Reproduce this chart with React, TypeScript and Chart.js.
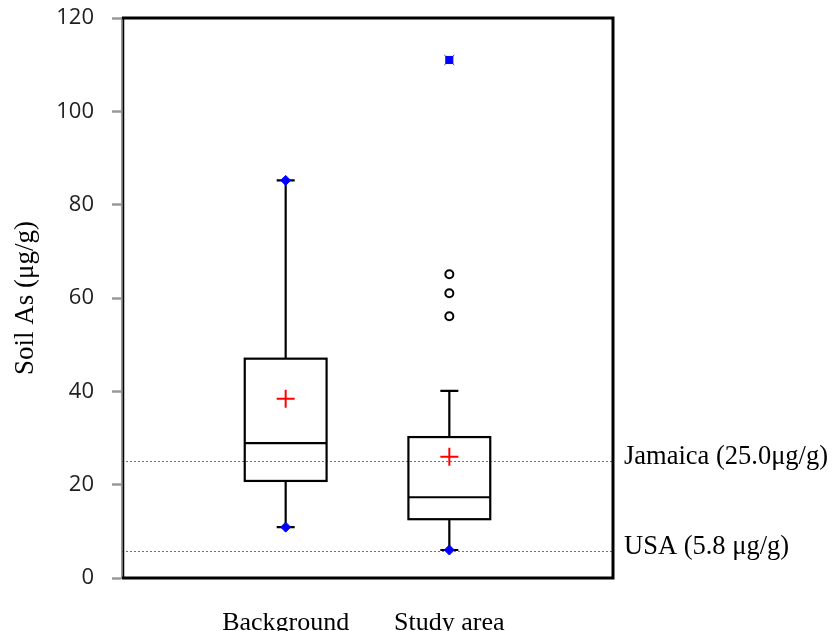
import React, { useEffect, useRef } from "react";
import { Chart, registerables } from "chart.js";

Chart.register(...registerables);

const categories = ["Background", "Study area"];
const q1Values = [20.8, 12.6];
const medianValues = [28.9, 17.3];
const q3Values = [47.0, 30.2];
const whiskerLowValues = [10.9, 6.0];
const whiskerHighValues = [85.2, 40.1];
const meanValues = [38.4, 26.0];
const outlierValues = [[], [56.1, 61.0, 65.1]];
const extremeValues = [[], [111.0]];
const refLabels = ["Jamaica (25.0μg/g)", "USA (5.8 μg/g)"];
const refValues = [25.0, 5.8];
const yTicks = [0, 20, 40, 60, 80, 100, 120];

const SERIF = "'Liberation Serif', 'Times New Roman', serif";

const boxPlugin = {
  id: "boxPlugin",
  beforeDatasetsDraw(chart: any) {
    const { ctx, chartArea, scales } = chart;
    const xs = scales.x;
    const ys = scales.y;
    ctx.save();
    ctx.strokeStyle = "#707070";
    ctx.lineWidth = 1;
    ctx.setLineDash([2, 2]);
    refValues.forEach((v) => {
      const y = Math.round(ys.getPixelForValue(v)) + 0.5;
      ctx.beginPath();
      ctx.moveTo(chartArea.left, y);
      ctx.lineTo(chartArea.right, y);
      ctx.stroke();
    });
    ctx.setLineDash([]);
    ctx.strokeStyle = "#000";
    ctx.lineWidth = 2.2;
    categories.forEach((_, i) => {
      const cx = xs.getPixelForValue(i + 1);
      const xl = xs.getPixelForValue(i + 1 - 0.25);
      const xr = xs.getPixelForValue(i + 1 + 0.25);
      const capL = xs.getPixelForValue(i + 1 - 0.055);
      const capR = xs.getPixelForValue(i + 1 + 0.055);
      const yq1 = ys.getPixelForValue(q1Values[i]);
      const yq3 = ys.getPixelForValue(q3Values[i]);
      const ymed = ys.getPixelForValue(medianValues[i]);
      const ylo = ys.getPixelForValue(whiskerLowValues[i]);
      const yhi = ys.getPixelForValue(whiskerHighValues[i]);
      ctx.strokeRect(xl, yq3, xr - xl, yq1 - yq3);
      ctx.beginPath();
      ctx.moveTo(xl, ymed);
      ctx.lineTo(xr, ymed);
      ctx.moveTo(cx, yq3);
      ctx.lineTo(cx, yhi);
      ctx.moveTo(capL, yhi);
      ctx.lineTo(capR, yhi);
      ctx.moveTo(cx, yq1);
      ctx.lineTo(cx, ylo);
      ctx.moveTo(capL, ylo);
      ctx.lineTo(capR, ylo);
      ctx.stroke();
    });
    ctx.restore();
  },
  afterDraw(chart: any) {
    const { ctx, chartArea, scales } = chart;
    const ys = scales.y;
    ctx.save();
    ctx.strokeStyle = "#000";
    ctx.lineWidth = 3;
    ctx.beginPath();
    ctx.moveTo(chartArea.left, chartArea.top);
    ctx.lineTo(chartArea.right, chartArea.top);
    ctx.lineTo(chartArea.right, chartArea.bottom);
    ctx.lineTo(chartArea.left, chartArea.bottom);
    ctx.stroke();
    ctx.lineWidth = 1.5;
    ctx.beginPath();
    ctx.moveTo(chartArea.left + 1.5, chartArea.top);
    ctx.lineTo(chartArea.left + 1.5, chartArea.bottom);
    ctx.stroke();
    ctx.fillStyle = "#000";
    ctx.font = `26.5px ${SERIF}`;
    ctx.textAlign = "left";
    ctx.textBaseline = "alphabetic";
    refValues.forEach((v, i) => {
      const y = ys.getPixelForValue(v);
      ctx.fillText(refLabels[i], chartArea.right + 11, y + 3);
    });
    ctx.restore();
  },
};

export default function App() {
  const ref = useRef<HTMLCanvasElement>(null);
  useEffect(() => {
    if (!ref.current) return;
    const minMarkers = categories.map((_, i) => ({ x: i + 1, y: whiskerLowValues[i] }));
    const maxMarkers = categories
      .map((_, i) => ({ x: i + 1, y: whiskerHighValues[i], ext: extremeValues[i].length }))
      .filter((p) => p.ext === 0)
      .map((p) => ({ x: p.x, y: p.y }));
    const extremes = categories.flatMap((_, i) => extremeValues[i].map((v) => ({ x: i + 1, y: v })));
    const outliers = categories.flatMap((_, i) => outlierValues[i].map((v) => ({ x: i + 1, y: v })));
    const means = categories.map((_, i) => ({ x: i + 1, y: meanValues[i] }));
    const chart = new Chart(ref.current, {
      type: "scatter",
      data: {
        datasets: [
          { data: minMarkers.concat(maxMarkers), pointStyle: "rectRot", pointRadius: 5, backgroundColor: "#0000ff", borderColor: "#0000ff", borderWidth: 1 },
          { data: extremes, pointStyle: "rect", pointRadius: 5, backgroundColor: "#0000ff", borderColor: "#0000ff", borderWidth: 1 },
          { data: extremes, pointStyle: "crossRot", pointRadius: 7, backgroundColor: "#222", borderColor: "#222", borderWidth: 1 },
          { data: outliers, pointStyle: "circle", pointRadius: 4, backgroundColor: "#fff", borderColor: "#000", borderWidth: 2 },
          { data: means, pointStyle: "cross", pointRadius: 9, backgroundColor: "#ff0000", borderColor: "#ff0000", borderWidth: 2 },
        ],
      },
      options: {
        responsive: false,
        animation: false,
        devicePixelRatio: 1,
        layout: { padding: { top: 18, right: 225, bottom: 0, left: 0 } },
        plugins: { legend: { display: false }, tooltip: { enabled: false } },
        scales: {
          x: {
            type: "linear",
            min: 0,
            max: 3,
            afterBuildTicks: (s: any) => {
              s.ticks = categories.map((_, i) => ({ value: i + 1 }));
            },
            afterFit: (s: any) => {
              s.height = 53;
              s.paddingLeft = 0;
              s.paddingRight = 0;
            },
            grid: { display: false },
            border: { display: false },
            ticks: {
              autoSkip: false,
              maxRotation: 0,
              padding: 22,
              color: "#000",
              font: { family: SERIF, size: 26 },
              callback: (v: any) => categories[Number(v) - 1] ?? "",
            },
          },
          y: {
            min: 0,
            max: 120,
            afterBuildTicks: (s: any) => {
              s.ticks = yTicks.map((v) => ({ value: v }));
            },
            afterFit: (s: any) => {
              s.width = 122;
              s.paddingTop = 0;
              s.paddingBottom = 0;
            },
            grid: { drawOnChartArea: false, drawTicks: true, tickLength: 10, tickColor: "#999", tickWidth: 2.5 },
            border: { display: true, color: "#999", width: 3 },
            ticks: {
              padding: 18,
              color: "#1e1e1e",
              font: { family: "'Open Sans', sans-serif", size: 22 },
            },
            title: {
              display: true,
              text: "Soil As (μg/g)",
              color: "#000",
              font: { family: SERIF, size: 27 },
              padding: { top: 10, bottom: 0 },
            },
          },
        },
      },
      plugins: [boxPlugin],
    });
    return () => chart.destroy();
  }, []);
  return (
    <div style={{ position: "absolute", left: 0, top: 0, width: 838, height: 631, background: "#fff" }}>
      <canvas ref={ref} width={838} height={631} />
    </div>
  );
}
